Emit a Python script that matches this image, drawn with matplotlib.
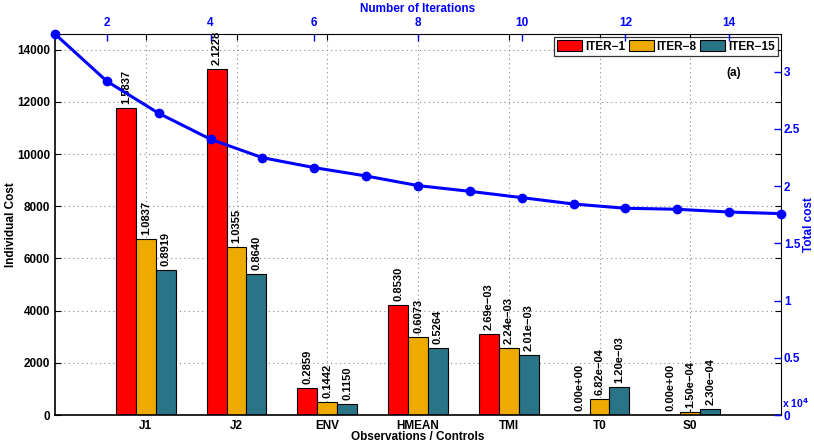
import matplotlib.pyplot as plt
import numpy as np

plt.rcParams["font.family"] = ["Liberation Sans", "DejaVu Sans"]
plt.rcParams["font.weight"] = "bold"
plt.rcParams["axes.unicode_minus"] = True

# individual cost per observation / control
categorias = ["J1", "J2", "ENV", "HMEAN", "TMI", "T0", "S0"]
iter_1 = [11750, 13250, 1045, 4205, 3110, 0, 0]
iter_8 = [6730, 6450, 510, 2970, 2580, 612, 127]
iter_15 = [5550, 5400, 410, 2575, 2305, 1083, 218]

# normalised values written above the bars
etq_1 = ["1.5837", "2.1228", "0.2859", "0.8530", "2.69e−03", "0.00e+00", "0.00e+00"]
etq_8 = ["1.0837", "1.0355", "0.1442", "0.6073", "2.24e−03", "6.82e−04", "1.50e−04"]
etq_15 = ["0.8919", "0.8640", "0.1150", "0.5264", "2.01e−03", "1.20e−03", "2.30e−04"]

# total cost (x 10^4) over the iterations
iteraciones = list(range(1, 16))
coste_total = [3.33, 2.917, 2.637, 2.41, 2.249, 2.162, 2.089, 2.005,
               1.955, 1.90, 1.844, 1.807, 1.798, 1.774, 1.760]

ROJO = "#ff0000"
AMARILLO = "#efaa00"
TEAL = "#2a7487"
AZUL = "#0000ff"

fig = plt.figure(figsize=(8.14, 4.43), dpi=100)
pos = [55 / 814, 1 - 415 / 443, (781 - 55) / 814, (415 - 34) / 443]
ax = fig.add_axes(pos)

x = np.arange(1, len(categorias) + 1)
w = 0.22
series = [(iter_1, etq_1, ROJO, "ITER−1", -w),
          (iter_8, etq_8, AMARILLO, "ITER−8", 0.0),
          (iter_15, etq_15, TEAL, "ITER−15", w)]
for vals, etqs, color, nombre, dx in series:
    barras = ax.bar(x + dx, vals, width=w, color=color, edgecolor="black",
                    linewidth=0.8, label=nombre, zorder=2)
    for b, t in zip(barras, etqs):
        ax.annotate(t, (b.get_x() + b.get_width() / 2, b.get_height()),
                    xytext=(0, 3), textcoords="offset points", rotation=90,
                    ha="center", va="bottom", fontsize=8, fontweight="bold",
                    zorder=3)

ax.set_xlim(0, 8)
ax.set_ylim(0, 14600)
ax.set_xticks(x)
ax.set_xticklabels(categorias)
ax.set_yticks(np.arange(0, 14001, 2000))
ax.grid(True, linestyle=(0, (1, 3)), color="#888888", linewidth=0.8, zorder=0)
ax.set_axisbelow(True)
ax.tick_params(direction="in", length=4, labelsize=8.5, top=True, right=True,
               width=0.8)
for s in ["left", "bottom"]:
    ax.spines[s].set_linewidth(1.2)
ax.set_ylabel("Individual Cost", fontsize=8.5, fontweight="bold", va="center")
ax.yaxis.set_label_coords(-0.061, 0.5)
ax.set_xlabel("Observations / Controls", fontsize=8.5, fontweight="bold",
              va="center")
ax.xaxis.set_label_coords(0.5, -0.058)

leg = ax.legend(loc="upper right", ncol=3, fontsize=8.5, frameon=True,
                fancybox=False, edgecolor="black", handlelength=2.1,
                handleheight=1.0, handletextpad=0.25, columnspacing=0.3,
                borderpad=0.3, borderaxespad=0.25)
leg.get_frame().set_linewidth(0.9)
for t in leg.get_texts():
    t.set_fontweight("bold")

ax.text(0.935, 0.898, "(a)", transform=ax.transAxes, fontsize=8.5,
        fontweight="bold", ha="center", va="center")

# total cost axis: iterations on top, cost on the right
ax2 = fig.add_axes(pos, frameon=False)
ax2.plot(iteraciones, coste_total, color=AZUL, linewidth=2.2, marker="o",
         markersize=6, clip_on=False, zorder=4)
ax2.set_xlim(1, 15)
ax2.set_ylim(0, 3.33)
ax2.xaxis.tick_top()
ax2.yaxis.tick_right()
ax2.set_xticks(range(2, 15, 2))
ax2.set_yticks(np.arange(0, 3.01, 0.5))
ax2.set_yticklabels(["0", "0.5", "1", "1.5", "2", "2.5", "3"])
ax2.tick_params(colors=AZUL, direction="in", length=5, labelsize=8.5, width=1)
ax2.tick_params(axis="y", pad=2)
ax2.xaxis.set_label_position("top")
ax2.yaxis.set_label_position("right")
ax2.set_xlabel("Number of Iterations", color=AZUL, fontsize=8.5,
               fontweight="bold", va="center")
ax2.xaxis.set_label_coords(0.5, 1.0656)
ax2.set_ylabel("Total cost", color=AZUL, fontsize=8.5, fontweight="bold",
               va="center")
ax2.yaxis.set_label_coords(1.039, 0.5)
ax2.spines["top"].set_visible(True)
ax2.spines["right"].set_visible(True)
ax2.spines["top"].set_color(AZUL)
ax2.spines["right"].set_color(AZUL)
ax2.spines["top"].set_linewidth(1.2)
ax2.spines["right"].set_linewidth(1.2)
ax2.text(1.002, 0.012, "x 10$^4$", transform=ax2.transAxes, color=AZUL,
         fontsize=7.5, fontweight="bold", ha="left", va="bottom")

fig.savefig("out.png", dpi=100)
